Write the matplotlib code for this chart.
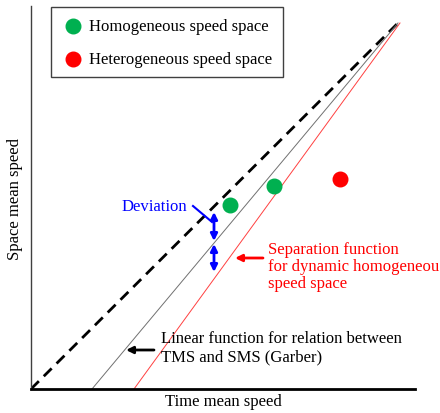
import matplotlib.pyplot as plt

plt.rcParams['font.family'] = ['Liberation Serif', 'DejaVu Serif']

# concept chart, units are arbitrary (roughly pixels of the original sketch)
line_x = [0, 367]
line_y = [0, 366]
garber_x = [61, 367]
garber_y = [0, 366]
sep_x = [103, 369]
sep_y = [0, 366]

homo_x = [199, 243]
homo_y = [184, 203]
hetero_x = [309]
hetero_y = [210]

fig = plt.figure(figsize=(4.4, 4.14), dpi=100)
ax = fig.add_axes([31 / 440, 24 / 414, 384 / 440, 383 / 414])
ax.set_xlim(0, 384)
ax.set_ylim(0, 383)

ax.plot(line_x, line_y, color="black", linestyle=(0, (4, 2.5)), linewidth=2)
ax.plot(garber_x, garber_y, color="#707070", linewidth=0.7)
ax.plot(sep_x, sep_y, color="#ff4040", linewidth=0.7)

ax.scatter(homo_x, homo_y, s=110, color="#00b050", zorder=3)
ax.scatter(hetero_x, hetero_y, s=110, color="#ff0000", zorder=3)

# legend drawn by hand as a framed box
ax.add_patch(plt.Rectangle((20, 312), 232, 70, fill=False, edgecolor="#404040", linewidth=1))
ax.scatter([42], [363], s=110, color="#00b050", clip_on=False)
ax.scatter([42], [330], s=110, color="#ff0000", clip_on=False)
ax.text(58, 363, "Homogeneous speed space", fontsize=12, va="center")
ax.text(58, 330, "Heterogeneous speed space", fontsize=12, va="center")

# deviation arrows
arrow_kw = dict(arrowstyle="<|-|>", color="blue", lw=2, mutation_scale=10,
                shrinkA=0, shrinkB=0)
ax.annotate("", xy=(183, 177), xytext=(183, 148), arrowprops=arrow_kw)
ax.annotate("", xy=(183, 145), xytext=(183, 117), arrowprops=arrow_kw)
ax.plot([162, 181], [183, 167], color="blue", linewidth=1.5)
ax.text(91, 183, "Deviation", color="blue", fontsize=12, va="center")

# separation function label
ax.annotate("", xy=(204, 131), xytext=(232, 131),
            arrowprops=dict(arrowstyle="-|>", color="red", lw=2, mutation_scale=10,
                            shrinkA=0, shrinkB=0))
ax.text(237, 148, "Separation function\nfor dynamic homogeneous\nspeed space",
        color="red", fontsize=12, va="top", linespacing=1.1, clip_on=False)

# garber label
ax.annotate("", xy=(95, 39), xytext=(123, 39),
            arrowprops=dict(arrowstyle="-|>", color="black", lw=2, mutation_scale=10,
                            shrinkA=0, shrinkB=0))
ax.text(130, 59, "Linear function for relation between\nTMS and SMS (Garber)",
        fontsize=12, va="top", linespacing=1.2)

ax.set_xticks([])
ax.set_yticks([])
for side in ["top", "right"]:
    ax.spines[side].set_visible(False)
ax.spines["left"].set_color("#404040")
ax.spines["left"].set_linewidth(1)
ax.spines["bottom"].set_linewidth(2)
ax.set_xlabel("Time mean speed", fontsize=12, labelpad=3)
ax.set_ylabel("Space mean speed", fontsize=12, labelpad=6)

fig.savefig("out.png", dpi=100)
